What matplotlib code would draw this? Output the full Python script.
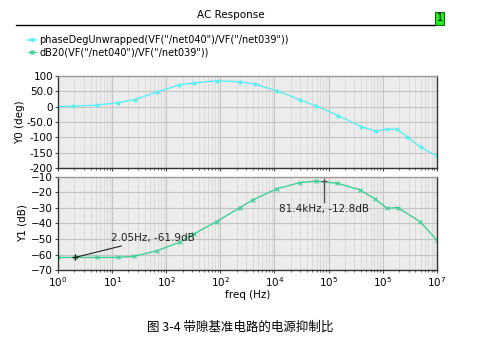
import numpy as np
import matplotlib
matplotlib.use("Agg")
import matplotlib.pyplot as plt
from matplotlib.ticker import FixedLocator, LogLocator, NullFormatter

# phase curve
phase_freq = [1, 1.9, 5.2, 13, 26, 66, 174, 330, 850, 2300, 4400, 11000,
              29500, 59000, 150000, 400000, 760000, 1.2e6, 1.86e6, 2.8e6, 5.1e6, 1e7]
phase_deg = [0, 2, 4.5, 13, 23, 47, 71, 77, 84, 81, 73, 52,
             22, 2, -29, -65, -80, -73, -74, -98, -133, -160]

# dB curve
db_freq = [1, 2.05, 5.2, 13, 25, 66, 178, 330, 850, 2300, 4000, 11000,
           29500, 59000, 145000, 380000, 720000, 1.2e6, 1.9e6, 4.9e6, 1e7]
db_val = [-61.9, -61.9, -61.9, -61.8, -61.2, -57.7, -52, -46.6, -38.8, -29.8, -24.8, -17.7,
          -13.7, -12.8, -14.1, -18.4, -24.2, -30.2, -29.8, -38.8, -50.7]

x_ticks = [1, 10, 100, 1e3, 1e4, 1e5, 1e6, 1e7]
x_ticklabels = ["$10^0$", "$10^1$", "$10^2$", "$10^2$", "$10^4$", "$10^5$", "$10^5$", "$10^7$"]
y0_ticks = [100, 50, 0, -50, -100, -150, -200]
y0_ticklabels = ["100", "50.0", "0", "-50.0", "-100", "-150", "-200"]
y1_ticks = [-10, -20, -30, -40, -50, -60, -70]

m1 = (2.05, -61.9, "2.05Hz, -61.9dB")
m2 = (81400, -12.8, "81.4kHz, -12.8dB")

cyan = "#5cf0f0"
green = "#3fcf95"
bg = "#ececec"

plt.rcParams['font.family'] = ['DejaVu Sans']
fig = plt.figure(figsize=(4.8, 3.53), dpi=100)

ax0 = fig.add_axes([0.121, 0.524, 0.789, 0.261])
ax1 = fig.add_axes([0.121, 0.235, 0.789, 0.264])

for ax in (ax0, ax1):
    ax.set_facecolor(bg)
    ax.set_xscale("log")
    ax.set_xlim(1, 1e7)
    ax.xaxis.set_major_locator(FixedLocator(x_ticks))
    ax.xaxis.set_minor_locator(LogLocator(base=10, subs=np.arange(2, 10), numticks=20))
    ax.xaxis.set_minor_formatter(NullFormatter())
    ax.grid(True, which="major", color="#c4c4c4", lw=0.8)
    ax.grid(True, which="minor", axis="x", color="#d8d8d8", lw=0.6)
    ax.tick_params(labelsize=7.5, length=2.5, color="#444444", pad=1)
    ax.tick_params(which="minor", length=1.5, color="#444444")
    for s in ax.spines.values():
        s.set_color("#333333")
        s.set_linewidth(1.0)
    ax.spines["top"].set_color("#999999")

ax0.plot(phase_freq, phase_deg, color=cyan, lw=1.0, marker="o", ms=2, mec=cyan, mfc=cyan)
ax0.set_ylim(-200, 100)
ax0.set_yticks(y0_ticks)
ax0.set_yticklabels(y0_ticklabels)
ax0.tick_params(axis="x", labelbottom=False)
ax0.set_ylabel("Y0 (deg)", fontsize=7.5, labelpad=1)

ax1.plot(db_freq, db_val, color=green, lw=1.0, marker="x", ms=3.5, mew=0.8)
ax1.set_ylim(-70, -10)
ax1.set_yticks(y1_ticks)
ax1.set_xticklabels(x_ticklabels)
ax1.set_xlabel("freq (Hz)", fontsize=7.5, labelpad=1)
ax1.set_ylabel("Y1 (dB)", fontsize=7.5, labelpad=3)

# markers
ax1.plot([m1[0]], [m1[1]], marker="+", color="black", ms=5, mew=0.9)
ax1.annotate(m1[2], xy=(m1[0], m1[1]), xytext=(9.5, -49.5), fontsize=7.5, color="#222222",
             arrowprops=dict(arrowstyle="-", color="#222222", lw=0.8, shrinkA=0, shrinkB=0),
             va="center", ha="left")
ax1.plot([m2[0]], [m2[1]], marker="+", color="#555555", ms=5, mew=0.9)
ax1.plot([m2[0], m2[0]], [m2[1], -26.5], color="#555555", lw=1.0)
ax1.text(m2[0], -30.5, m2[2], fontsize=7.5, color="#222222", ha="center", va="center")

# header
fig.text(0.48, 0.957, "AC Response", fontsize=7.5, ha="center", va="center")
fig.add_artist(plt.Line2D([0.033, 0.907], [0.929, 0.929], color="black", lw=1.0))
fig.text(0.916, 0.948, "1", fontsize=7, ha="center", va="center",
         bbox=dict(boxstyle="square,pad=0.15", fc="#22ee22", ec="#116611", lw=0.8))

# legend
fig.add_artist(plt.Line2D([0.058, 0.074], [0.887, 0.887], color=cyan, lw=1.2))
fig.add_artist(plt.Line2D([0.066], [0.887], color=cyan, marker="v", ms=2.5))
fig.text(0.082, 0.887, 'phaseDegUnwrapped(VF("/net040")/VF("/net039"))', fontsize=7,
         ha="left", va="center")
fig.add_artist(plt.Line2D([0.058, 0.074], [0.852, 0.852], color=green, lw=0.8))
fig.add_artist(plt.Line2D([0.066], [0.852], color=green, marker="x", ms=3.5, mew=0.8))
fig.add_artist(plt.Line2D([0.066], [0.852], color=green, marker="+", ms=3.5, mew=0.8))
fig.text(0.082, 0.852, 'dB20(VF("/net040")/VF("/net039"))', fontsize=7,
         ha="left", va="center")

fig.text(0.5, 0.073, "图 3-4 带隙基准电路的电源抑制比", fontsize=9, ha="center", va="center",
         family=["Noto Sans CJK SC", "DejaVu Sans"])

fig.savefig("out.png", dpi=100)
